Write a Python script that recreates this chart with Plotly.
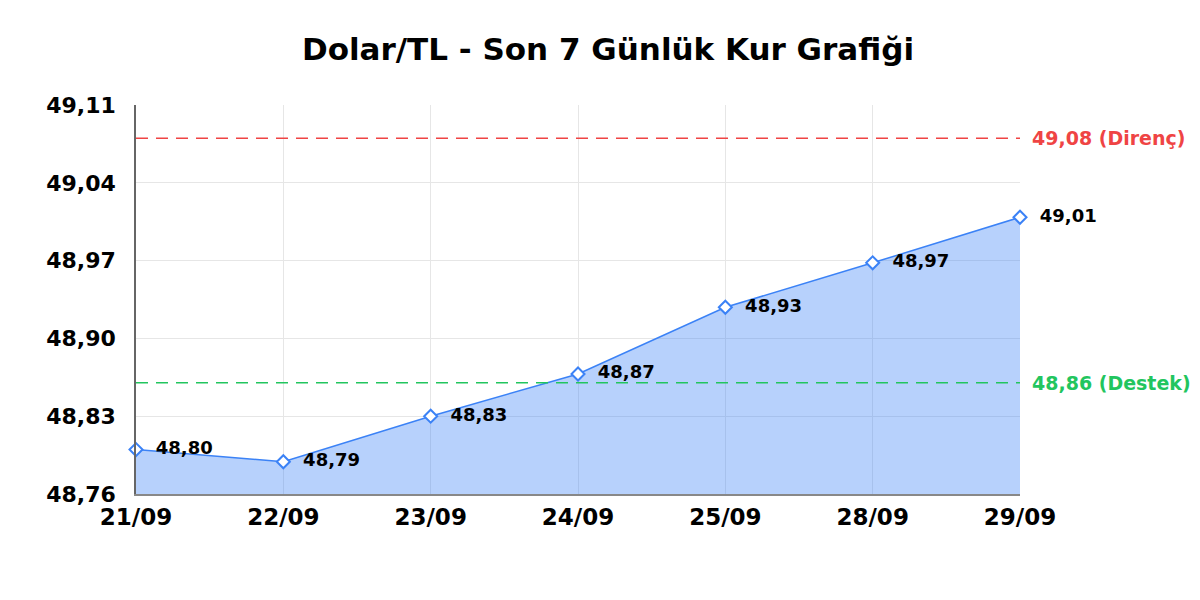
import plotly.graph_objects as go

# son 7 gunluk kur verisi
dates = ['21/09', '22/09', '23/09', '24/09', '25/09', '28/09', '29/09']
rates = [48.80, 48.789, 48.83, 48.868, 48.928, 48.968, 49.009]
rate_labels = ['48,80', '48,79', '48,83', '48,87', '48,93', '48,97', '49,01']

resistance = 49.08
support = 48.86
resistance_label = '49,08 (Direnç)'
support_label = '48,86 (Destek)'

y_ticks = [48.76, 48.83, 48.90, 48.97, 49.04, 49.11]
y_tick_labels = ['48,76', '48,83', '48,90', '48,97', '49,04', '49,11']

BLUE = '#3b82f6'
RED = '#ef4444'
GREEN = '#22c55e'
FONT = 'DejaVu Sans'

fig = go.Figure()

fig.add_trace(go.Scatter(
    x=dates,
    y=rates,
    mode='lines+markers+text',
    fill='tozeroy',
    fillcolor='rgba(59,130,246,0.37)',
    line=dict(color=BLUE, width=1.5),
    marker=dict(symbol='diamond', size=10, color='white',
                line=dict(color=BLUE, width=2)),
    text=['  ' + t for t in rate_labels],
    textposition='middle right',
    textfont=dict(family=FONT, size=18, color='black', weight='bold'),
    cliponaxis=False,
    hoverinfo='skip',
    showlegend=False,
))

# direnc / destek cizgileri
for level, color, label in [(resistance, RED, resistance_label),
                            (support, GREEN, support_label)]:
    fig.add_shape(type='line', xref='paper', x0=0, x1=1, yref='y', y0=level, y1=level,
                  line=dict(color=color, width=1.5, dash='12px,8px'))
    fig.add_annotation(xref='paper', x=1, yref='y', y=level, text=label,
                       xanchor='left', xshift=10, showarrow=False,
                       font=dict(family=FONT, size=19, color=color, weight='bold'))

fig.update_layout(
    width=1200,
    height=600,
    margin=dict(l=128, r=188, t=97, b=114),
    paper_bgcolor='white',
    plot_bgcolor='white',
    title=dict(text='Dolar/TL - Son 7 Günlük Kur Grafiği', x=0.5, xanchor='center',
               y=0.932, yanchor='middle',
               font=dict(family=FONT, size=31, color='black', weight='bold')),
    xaxis=dict(
        type='category',
        range=[0, len(dates) - 1],
        showgrid=True,
        gridcolor='#e6e6e6',
        showline=True,
        linecolor='#888888',
        linewidth=1.5,
        ticks='',
        ticklabelstandoff=2,
        tickfont=dict(family=FONT, size=23, color='black', weight='bold'),
        zeroline=False,
        fixedrange=True,
    ),
    yaxis=dict(
        range=[y_ticks[0], y_ticks[-1]],
        tickvals=y_ticks,
        ticktext=y_tick_labels,
        showgrid=True,
        gridcolor='#e6e6e6',
        showline=True,
        linecolor='#666666',
        linewidth=1.5,
        ticks='',
        ticklabelstandoff=14,
        tickfont=dict(family=FONT, size=22, color='black', weight='bold'),
        zeroline=False,
        fixedrange=True,
    ),
)

fig.write_html('out.html')
